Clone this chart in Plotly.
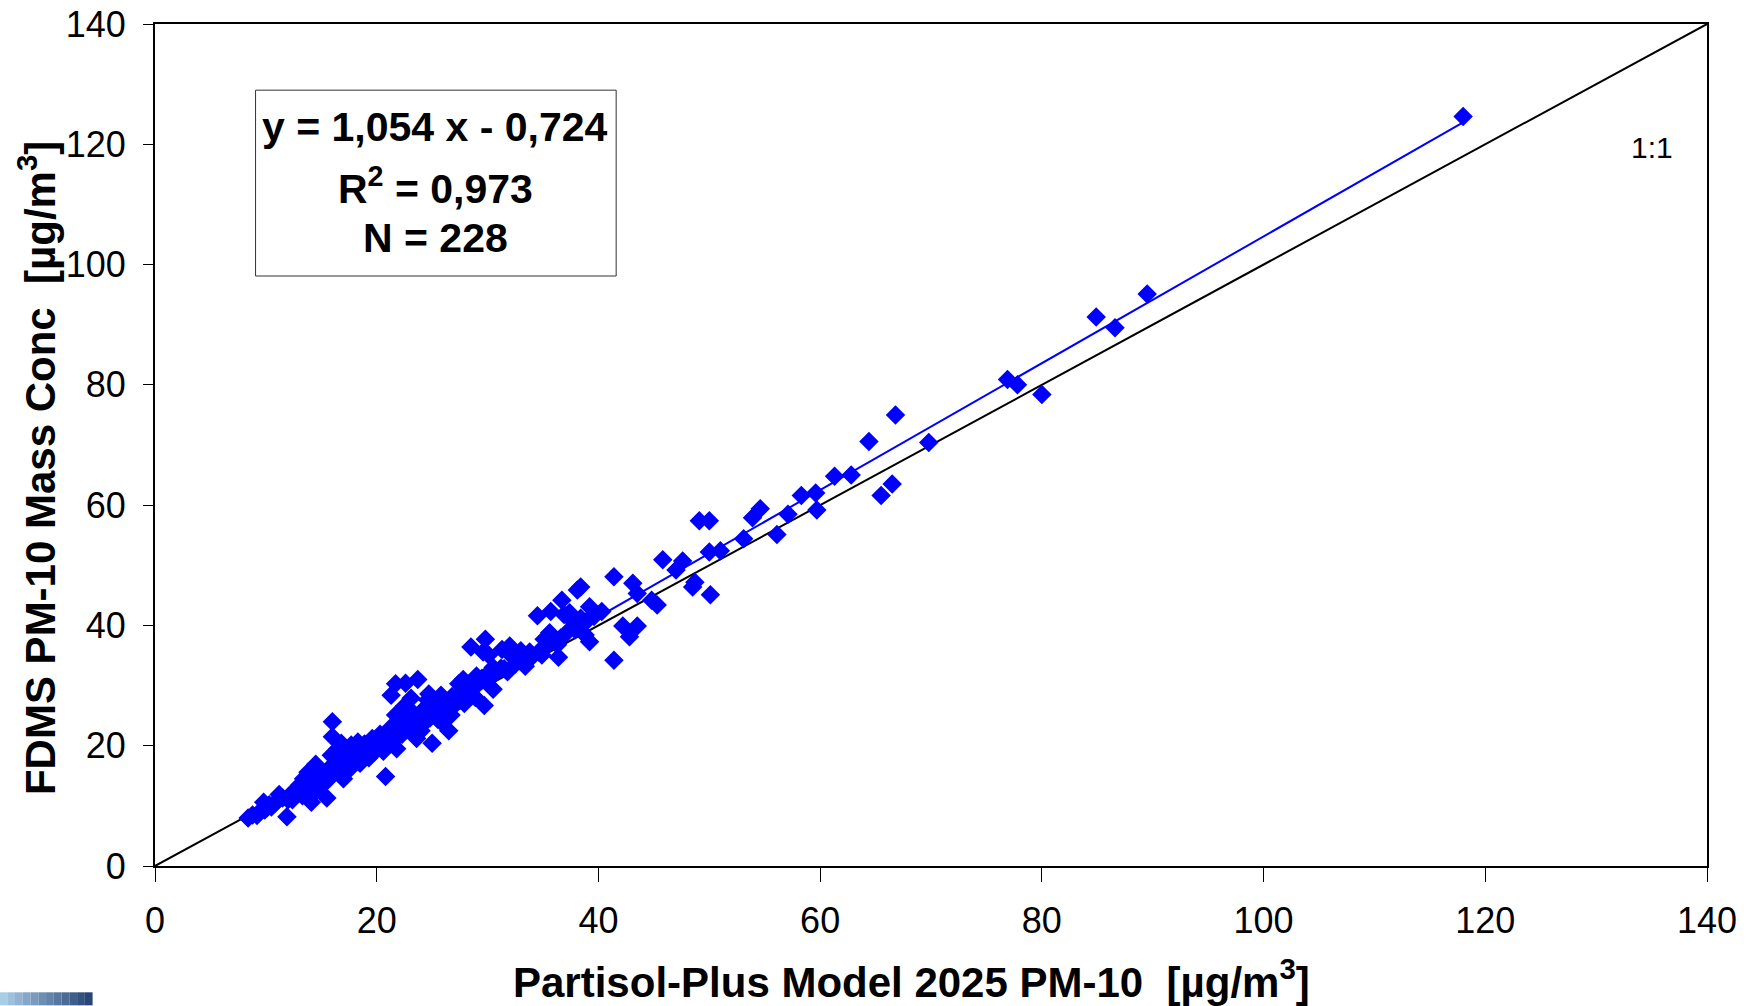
import plotly.graph_objects as go

# ---- data ----
partisol = [118.0, 89.5, 84.9, 86.6, 80.0, 76.9, 77.8, 69.8, 64.4, 66.8, 66.5, 65.5, 62.8, 61.3,
            59.6, 58.3, 59.7, 57.1, 56.1, 54.6, 53.9, 53.1, 51.0, 50.0, 49.1, 50.0, 50.1, 48.7,
            48.5, 47.6, 47.0, 45.8, 45.3, 44.8, 43.5, 43.1, 43.5, 42.8, 42.2, 41.4, 41.4, 40.3,
            39.2, 39.2, 38.8, 38.4, 38.1, 38.4, 37.8, 37.4, 36.7, 36.9, 36.4, 36.3, 35.7, 35.6,
            35.1, 34.9, 34.5, 33.8, 33.4, 33.0, 32.3, 32.0, 31.8, 31.2, 31.3, 30.5, 30.1, 29.8,
            29.6, 29.7, 30.1, 29.0, 28.7, 28.5, 28.4, 27.8, 27.4, 27.5, 26.8, 26.3, 26.5, 26.1,
            25.9, 25.4, 25.0, 24.7, 24.3, 24.1, 23.7, 23.7, 23.6, 23.4, 23.1, 22.9, 22.6, 22.5,
            22.4, 22.1, 21.9, 21.7, 21.7, 21.8, 21.3, 20.9, 20.8, 20.6, 20.3, 19.9, 19.6, 19.3,
            19.0, 18.8, 18.5, 18.3, 18.0, 17.7, 17.6, 17.3, 17.0, 16.8, 16.7, 16.5, 16.0, 16.0,
            15.9, 15.6, 15.5, 15.2, 15.0, 14.6, 14.5, 14.3, 14.1, 13.9, 13.8, 13.6, 13.4, 13.3,
            13.0, 12.7, 12.4, 12.1, 11.9, 11.5, 11.2, 10.8, 10.5, 10.1, 9.8, 9.5, 9.2, 8.8, 8.4,
            12.8, 13.2, 13.7, 14.0, 14.4, 14.8, 15.3, 12.0, 11.0, 10.3, 9.9, 16.2, 16.6, 17.2,
            17.8, 18.2, 18.7, 19.1, 19.5, 19.8, 20.1, 20.5, 21.0, 21.4, 22.0, 22.3, 22.8, 23.2,
            23.5, 23.9, 24.2, 24.5, 24.8, 25.2, 25.6, 26.0, 26.4, 26.9, 27.2, 27.7, 28.1, 28.6,
            29.2, 29.5, 29.9, 30.3, 30.7, 31.5, 32.5, 33.2, 33.9, 34.6, 35.3, 36.0, 36.6, 37.2,
            37.9, 38.6, 39.0, 39.6, 21.2, 20.0, 18.9, 17.5, 16.3, 15.8, 14.9, 24.0, 25.5, 26.7,
            27.9, 23.0, 22.7, 24.6, 25.8, 28.9, 30.5]
fdms = [124.6, 95.1, 91.3, 89.5, 78.4, 80.9, 80.0, 70.4, 70.6, 75.0, 63.5, 61.6, 65.0, 64.8,
        62.0, 61.6, 59.2, 58.5, 55.1, 59.4, 57.9, 54.4, 52.4, 52.2, 57.4, 57.4, 45.1, 47.2,
        46.4, 50.7, 49.2, 50.9, 43.4, 44.2, 45.3, 47.0, 39.9, 38.1, 39.9, 48.1, 34.2, 42.3,
        43.1, 37.3, 38.4, 46.4, 45.9, 41.2, 40.5, 42.1, 44.2, 41.8, 34.7, 36.8, 42.3, 38.8,
        37.7, 35.1, 41.6, 35.6, 33.2, 35.8, 34.7, 36.6, 32.3, 32.9, 36.0, 33.0, 32.1, 37.7,
        35.6, 26.7, 35.1, 31.6, 30.3, 36.4, 28.8, 31.0, 30.3, 27.5, 28.2, 25.4, 22.5, 27.3,
        23.8, 25.4, 20.4, 28.6, 23.8, 25.8, 31.0, 24.5, 21.2, 22.3, 27.9, 25.1, 30.4, 26.6,
        23.2, 24.1, 21.4, 30.3, 25.1, 19.5, 28.4, 21.2, 14.9, 19.1, 21.9, 20.4, 21.2, 18.0,
        20.1, 19.3, 17.1, 20.6, 18.6, 20.1, 16.2, 18.4, 14.5, 20.4, 17.5, 19.5, 24.0, 21.5,
        18.4, 14.3, 11.3, 15.0, 13.4, 14.5, 16.9, 12.1, 10.6, 13.9, 15.6, 12.8, 14.5, 11.7,
        13.4, 12.1, 11.0, 11.7, 8.2, 11.3, 11.9, 10.4, 9.8, 9.7, 10.6, 9.1, 8.4, 8.5, 8.0,
        12.9, 13.0, 14.0, 13.2, 14.8, 15.2, 14.2, 11.0, 10.8, 10.2, 9.3, 15.8, 16.6, 17.2,
        17.6, 17.9, 18.6, 19.2, 19.8, 19.0, 20.2, 20.6, 20.3, 21.8, 22.6, 21.9, 23.0, 24.0,
        23.2, 24.6, 25.0, 26.3, 24.6, 25.9, 26.7, 26.1, 27.0, 26.5, 28.0, 28.9, 29.3, 29.8,
        30.4, 31.2, 30.8, 31.6, 32.1, 32.8, 33.6, 34.2, 34.6, 35.6, 36.5, 37.4, 37.9, 38.9,
        39.3, 40.2, 40.8, 41.5, 22.9, 19.7, 20.3, 18.9, 17.0, 16.4, 13.8, 22.5, 24.4, 25.1,
        27.0, 26.0, 25.3, 27.6, 28.4, 28.0, 29.4]

slope = 1.054
intercept = -0.724
fit_lines = ["y = 1,054 x - 0,724", "R<sup>2</sup> = 0,973", "N = 228"]
one_to_one = [0, 140]
x_ticks = [0, 20, 40, 60, 80, 100, 120, 140]
y_ticks = [0, 20, 40, 60, 80, 100, 120, 140]
x_title = "<b>Partisol-Plus Model 2025 PM-10  [µg/m<sup>3</sup>]</b>"
y_title = "<b>FDMS PM-10 Mass Conc  [µg/m<sup>3</sup>]</b>"

FONT = "Liberation Sans, Arial, sans-serif"
BLUE = "#0000FF"

x_fit = [min(partisol), max(partisol)]
y_fit = [slope * v + intercept for v in x_fit]

fig = go.Figure()
fig.add_trace(go.Scatter(x=one_to_one, y=one_to_one, mode="lines",
                         line=dict(color="black", width=2), hoverinfo="skip", showlegend=False))
fig.add_trace(go.Scatter(x=x_fit, y=y_fit, mode="lines",
                         line=dict(color=BLUE, width=2), hoverinfo="skip", showlegend=False))
fig.add_trace(go.Scatter(x=partisol, y=fdms, mode="markers",
                         marker=dict(symbol="diamond", size=15, color=BLUE, line=dict(width=0)),
                         showlegend=False))

# regression text box
fig.add_shape(type="rect", xref="x", yref="y", x0=9.07, x1=41.6, y0=98.1, y1=129.0,
              line=dict(color="#333333", width=1), fillcolor="white", layer="above")
for txt, yy in zip(fit_lines, [122.8, 113.0, 104.4]):
    fig.add_annotation(x=25.3, y=yy, xref="x", yref="y", text=f"<b>{txt}</b>",
                       showarrow=False, font=dict(family=FONT, size=41, color="black"))

fig.add_annotation(x=135.0, y=119.5, xref="x", yref="y", text="1:1", showarrow=False,
                   font=dict(family=FONT, size=30, color="black"))

# axis titles
fig.add_annotation(x=0.4876, y=-0.1346, xref="paper", yref="paper", text=x_title,
                   showarrow=False, xanchor="center", yanchor="middle",
                   font=dict(family=FONT, size=42, color="black"))
fig.add_annotation(x=-0.076, y=0.4727, xref="paper", yref="paper", text=y_title,
                   showarrow=False, xanchor="center", yanchor="middle", textangle=-90,
                   font=dict(family=FONT, size=42, color="black"))

# small gradient bar at bottom-left corner
n = 12
c0 = (170, 205, 230)
c1 = (40, 70, 120)
x0p, x1p = -0.1002, -0.0402
for i in range(n):
    t = i / (n - 1)
    col = tuple(int(c0[k] + (c1[k] - c0[k]) * t) for k in range(3))
    fig.add_shape(type="rect", xref="paper", yref="paper",
                  x0=x0p + (x1p - x0p) * i / n, x1=x0p + (x1p - x0p) * (i + 1) / n,
                  y0=-0.1655, y1=-0.150, line=dict(width=0),
                  fillcolor="rgb(%d,%d,%d)" % col)

axis_common = dict(range=[0, 140], showgrid=False, zeroline=False, showline=True,
                   linecolor="black", linewidth=2, mirror=True, ticks="outside",
                   tickcolor="black", tickwidth=1, automargin=False,
                   ticklabeloverflow="allow",
                   tickfont=dict(family=FONT, size=36, color="black"))

fig.update_xaxes(**axis_common, tickvals=x_ticks, ticklen=14, ticklabelstandoff=8)
fig.update_yaxes(**axis_common, tickvals=y_ticks, ticklen=10, ticklabelstandoff=10)

fig.update_layout(width=1753, height=1006, plot_bgcolor="white", paper_bgcolor="white",
                  margin=dict(l=155, r=46, t=24, b=140), showlegend=False)

fig.write_html("out.html", config={"displayModeBar": False},
               post_script="document.body.style.margin='0px';document.body.style.overflow='hidden';")
